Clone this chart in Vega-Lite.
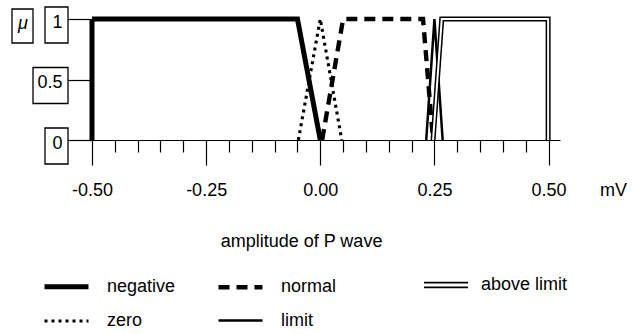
{
  "$schema": "https://vega.github.io/schema/vega-lite/v6.json",
  "width": 468,
  "height": 121,
  "autosize": {"type": "none"},
  "padding": {"left": 92, "top": 19, "right": 72, "bottom": 194},
  "background": "white",
  "config": {
    "view": {"stroke": null},
    "font": "Liberation Sans",
    "axis": {"grid": false, "labelFont": "Liberation Sans", "titleFont": "Liberation Sans", "labelColor": "black", "titleColor": "black", "tickColor": "black", "domainColor": "black"},
    "legend": {"labelFont": "Liberation Sans", "labelColor": "black"}
  },
  "datasets": {
    "curves": [
      {"series": "negative", "i": 1, "x": -0.5, "y": 0},
      {"series": "negative", "i": 2, "x": -0.5, "y": 1},
      {"series": "negative", "i": 3, "x": -0.05, "y": 1},
      {"series": "negative", "i": 4, "x": 0.0, "y": 0},
      {"series": "zero", "i": 1, "x": -0.048, "y": 0},
      {"series": "zero", "i": 2, "x": 0.0, "y": 1},
      {"series": "zero", "i": 3, "x": 0.047, "y": 0},
      {"series": "normal", "i": 1, "x": 0.004, "y": 0},
      {"series": "normal", "i": 2, "x": 0.05, "y": 1},
      {"series": "normal", "i": 3, "x": 0.225, "y": 1},
      {"series": "normal", "i": 4, "x": 0.247, "y": 0},
      {"series": "limit", "i": 1, "x": 0.232, "y": 0},
      {"series": "limit", "i": 2, "x": 0.25, "y": 1},
      {"series": "limit", "i": 3, "x": 0.268, "y": 0},
      {"series": "above limit", "i": 1, "x": 0.247, "y": 0},
      {"series": "above limit", "i": 2, "x": 0.266, "y": 1},
      {"series": "above limit", "i": 3, "x": 0.499, "y": 1},
      {"series": "above limit", "i": 4, "x": 0.499, "y": 0}
    ],
    "boxes": [
      {"lab": "1", "v": 1},
      {"lab": "0.5", "v": 0.5},
      {"lab": "0", "v": 0},
      {"lab": "μ", "v": 1}
    ],
    "unit": [{"u": "mV"}]
  },
  "layer": [
    {
      "data": {"name": "curves"},
      "mark": {"type": "line", "color": "black", "clip": false, "strokeJoin": "miter"},
      "encoding": {
        "x": {"field": "x", "type": "quantitative",
          "scale": {"domain": [-0.5, 0.525], "nice": false, "zero": false},
          "axis": {
            "values": [-0.5, -0.45, -0.4, -0.35, -0.3, -0.25, -0.2, -0.15, -0.1, -0.05, 0, 0.05, 0.1, 0.15, 0.2, 0.25, 0.3, 0.35, 0.4, 0.45, 0.5],
            "tickCount": 100,
            "labelExpr": "abs(datum.value*4 - round(datum.value*4)) < 0.001 ? replace(format(datum.value, '.2f'), '−', '-') : ''",
            "tickSize": {"condition": {"test": "abs(datum.value*4 - round(datum.value*4)) < 0.001", "value": 25}, "value": 12},
            "tickWidth": 1.2,
            "domainWidth": 1.2,
            "labelFontSize": 18,
            "labelPadding": 16,
            "labelFlush": false,
            "labelOverlap": false,
            "title": "amplitude of P wave",
            "titleFontSize": 18,
            "titleFontWeight": "normal",
            "titleX": 209,
            "titleY": 106,
            "titleAlign": "center",
            "titleBaseline": "alphabetic"
          }},
        "y": {"field": "y", "type": "quantitative",
          "scale": {"domain": [0, 1], "nice": false},
          "axis": {
            "values": [0, 0.5, 1],
            "domain": false,
            "tickSize": 24,
            "tickWidth": 1.2,
            "labelFontSize": 18,
            "labelPadding": 6,
            "labelOffset": 3,
            "labelBaseline": "middle",
            "labelExpr": "datum.value == 0.5 ? '0.5' : format(datum.value, 'd')",
            "title": "μ",
            "titleAngle": 0,
            "titleFontStyle": "italic",
            "titleFontWeight": "normal",
            "titleFontSize": 18,
            "titleX": -69.5,
            "titleY": 9,
            "titleAlign": "center",
            "titleBaseline": "alphabetic"
          }},
        "order": {"field": "i", "type": "quantitative"},
        "strokeDash": {"field": "series", "type": "nominal",
          "scale": {"domain": ["negative", "normal", "above limit", "zero", "limit"],
            "range": [[1, 0], [11, 7], [1, 0], [3, 4], [1, 0]]},
          "legend": {
            "title": null,
            "values": ["negative", "normal", "zero", "limit"],
            "orient": "none",
            "legendX": -50,
            "legendY": 243,
            "direction": "horizontal",
            "columns": 2,
            "symbolType": "stroke",
            "symbolSize": 1936,
            "symbolStrokeColor": "black",
            "labelFontSize": 18,
            "labelOffset": 16,
            "labelLimit": 400,
            "columnPadding": 33,
            "rowPadding": -11,
            "encode": {
              "symbols": {
                "update": {
                  "stroke": {"value": "black"},
                  "strokeWidth": {"signal": "datum.value === 'negative' ? 7 : datum.value === 'normal' ? 2.5 : datum.value === 'zero' ? 4 : 1"},
                  "strokeDash": {"signal": "datum.value === 'normal' ? [12, 8] : datum.value === 'zero' ? [4, 4] : [1, 0]"}
                }
              }
            }
          }},
        "strokeWidth": {"field": "series", "type": "nominal", "legend": null,
          "scale": {"domain": ["negative", "normal", "above limit", "zero", "limit"],
            "range": [5, 2.5, 5, 3.5, 1.1]}}
      }
    },
    {
      "data": {"name": "curves"},
      "transform": [{"filter": "datum.series === 'above limit'"}],
      "mark": {"type": "line", "strokeWidth": 5, "clip": false, "strokeJoin": "miter"},
      "encoding": {
        "x": {"field": "x", "type": "quantitative"},
        "y": {"field": "y", "type": "quantitative"},
        "order": {"field": "i", "type": "quantitative"},
        "color": {"field": "series", "type": "nominal",
          "scale": {"domain": ["above limit"], "range": ["black"]},
          "legend": {
            "title": null,
            "orient": "none",
            "legendX": 331,
            "legendY": 243,
            "symbolType": "stroke",
            "symbolSize": 1936,
            "labelFontSize": 18,
            "labelOffset": 12,
            "labelLimit": 400,
            "encode": {
              "symbols": {
                "update": {
                  "strokeWidth": {"signal": "1.6"},
                  "shape": {"signal": "'M-1,-0.107L1,-0.107M-1,0.107L1,0.107'"}
                }
              }
            }
          }}
      }
    },
    {
      "data": {"name": "curves"},
      "transform": [{"filter": "datum.series === 'above limit'"}],
      "mark": {"type": "line", "color": "white", "strokeWidth": 2, "clip": false, "strokeJoin": "miter"},
      "encoding": {
        "x": {"field": "x", "type": "quantitative"},
        "y": {"field": "y", "type": "quantitative"},
        "order": {"field": "i", "type": "quantitative"}
      }
    },
    {
      "data": {"name": "boxes"},
      "mark": {"type": "point", "filled": false, "stroke": "black", "strokeWidth": 1.3, "opacity": 1, "size": 1296, "clip": false},
      "encoding": {
        "x": {"datum": -0.5, "type": "quantitative"},
        "y": {"field": "v", "type": "quantitative"},
        "shape": {"field": "lab", "type": "nominal", "legend": null,
          "scale": {"domain": ["1", "0.5", "0", "μ"],
            "range": [
              "M-2.611,-0.667L-1.333,-0.667L-1.333,1.333L-2.611,1.333Z",
              "M-3.278,-0.667L-1.333,-0.667L-1.333,1.333L-3.278,1.333Z",
              "M-2.611,-0.667L-1.333,-0.667L-1.333,1.333L-2.611,1.333Z",
              "M-4.444,-0.556L-3.278,-0.556L-3.278,1.333L-4.444,1.333Z"
            ]}}
      }
    },
    {
      "data": {"name": "unit"},
      "mark": {"type": "text", "fontSize": 18, "font": "Liberation Sans", "color": "black", "align": "center", "baseline": "alphabetic", "dx": 65, "dy": 56, "clip": false},
      "encoding": {
        "text": {"field": "u", "type": "nominal"},
        "x": {"datum": 0.5, "type": "quantitative"},
        "y": {"datum": 0, "type": "quantitative"}
      }
    }
  ]
}
